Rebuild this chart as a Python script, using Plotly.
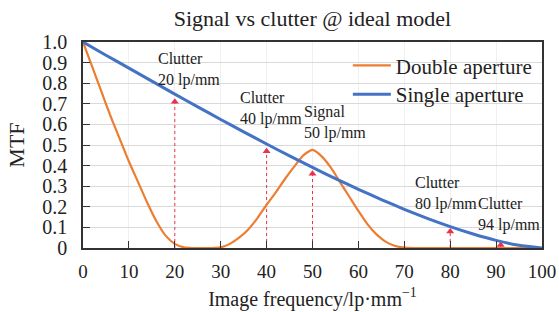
import plotly.graph_objects as go

# ---- data ----
freq_single = [0, 5, 10, 15, 20, 25, 30, 35, 40, 45, 50, 55, 60, 65, 70, 75, 80, 85, 90, 95, 100]
mtf_single = [1.0, 0.936, 0.873, 0.810, 0.747, 0.685, 0.624, 0.564, 0.505, 0.447, 0.391,
              0.337, 0.285, 0.235, 0.188, 0.144, 0.104, 0.068, 0.037, 0.013, 0.0]

freq_double = [0, 2, 4, 6, 8, 10, 12, 14, 16, 18, 20, 22, 24, 26, 28, 30, 32, 34, 36, 38,
               40, 42, 44, 46, 48, 50, 52, 54, 56, 58, 60, 62, 64, 66, 68, 70, 72, 80, 90, 100]
mtf_double = [1.0, 0.88, 0.76, 0.64, 0.53, 0.42, 0.32, 0.22, 0.13, 0.06, 0.02, 0.003, 0.0, 0.0,
              0.0, 0.003, 0.02, 0.05, 0.09, 0.145, 0.21, 0.27, 0.335, 0.395, 0.45, 0.476,
              0.445, 0.39, 0.32, 0.25, 0.18, 0.115, 0.065, 0.03, 0.01, 0.002, 0.0, 0.0, 0.0, 0.0]

arrow_x = [20, 40, 50, 80, 91]
arrow_tip = [0.71, 0.47, 0.36, 0.08, 0.015]

label_text = ["Clutter<br>20 lp/mm", "Clutter<br>40 lp/mm", "Signal<br>50 lp/mm",
              "Clutter<br>80 lp/mm", "Clutter<br>94 lp/mm"]
label_x = [15.9, 33.8, 47.7, 71.9, 85.6]
label_y = [0.865, 0.675, 0.609, 0.265, 0.165]

y_ticks = [0, 0.1, 0.2, 0.3, 0.4, 0.5, 0.6, 0.7, 0.8, 0.9, 1.0]
y_ticktext = ["0", "0.1", "0.2", "0.3", "0.4", "0.5", "0.6", "0.7", "0.8", "0.9", "1.0"]
x_ticks = [0, 10, 20, 30, 40, 50, 60, 70, 80, 90, 100]

FONT = "Liberation Serif, Times New Roman, serif"
RED = "#e8334f"
ORANGE = "#ed7d31"
BLUE = "#4472c4"
TXT = "#222"

fig = go.Figure()

# arrows (dotted stems + triangle heads)
for xa, ya in zip(arrow_x, arrow_tip):
    fig.add_trace(go.Scatter(x=[xa, xa], y=[0, ya], mode="lines",
                             line=dict(color=RED, width=1, dash="dot"),
                             showlegend=False, hoverinfo="skip"))
fig.add_trace(go.Scatter(x=arrow_x, y=arrow_tip, mode="markers",
                         marker=dict(symbol="triangle-up", size=7, color=RED),
                         showlegend=False, hoverinfo="skip"))

fig.add_trace(go.Scatter(x=freq_double, y=mtf_double, mode="lines", name="Double aperture",
                         line=dict(color=ORANGE, width=2.2, shape="spline", smoothing=0.6),
                         legend="legend"))
fig.add_trace(go.Scatter(x=freq_single, y=mtf_single, mode="lines", name="Single aperture",
                         line=dict(color=BLUE, width=3, shape="spline", smoothing=0.6),
                         legend="legend2"))

for t, xl, yl in zip(label_text, label_x, label_y):
    fig.add_annotation(x=xl, y=yl, xref="x", yref="y", text=t, showarrow=False,
                       xanchor="left", yanchor="middle", align="left",
                       font=dict(family=FONT, size=16, color=TXT))

fig.update_layout(
    width=559, height=312,
    margin=dict(l=83, r=17, t=42, b=64),
    paper_bgcolor="white", plot_bgcolor="white",
    font=dict(family=FONT, size=19, color=TXT),
    title=dict(text="Signal vs clutter @ ideal model", x=0.559, xanchor="center",
               y=0.94, yanchor="middle", font=dict(family=FONT, size=22, color=TXT)),
    legend=dict(x=0.577, xanchor="left", y=0.885, yanchor="middle",
                bgcolor="rgba(0,0,0,0)", font=dict(family=FONT, size=21, color=TXT),
                itemwidth=38),
    legend2=dict(x=0.577, xanchor="left", y=0.745, yanchor="middle",
                 bgcolor="rgba(0,0,0,0)", font=dict(family=FONT, size=21, color=TXT),
                 itemwidth=38),
    xaxis=dict(range=[0, 100], tickvals=x_ticks, ticks="inside", ticklen=7,
               tickcolor="#333", showline=True, linecolor="#333", linewidth=1.5, mirror=True,
               showgrid=True, gridcolor="#f0f0f0", zeroline=False, ticklabelstandoff=5,
               automargin=False,
               title=dict(text="Image frequency/lp·mm<sup>−1</sup>", standoff=11,
                          font=dict(family=FONT, size=20)),
               tickfont=dict(family=FONT, size=19)),
    yaxis=dict(range=[0, 1.0], tickvals=y_ticks, ticktext=y_ticktext, ticks="inside",
               ticklen=7, tickcolor="#333", showline=True, linecolor="#333", linewidth=1.5,
               mirror=True, showgrid=True, gridcolor="#d9d9d9", zeroline=False,
               ticklabelstandoff=10, automargin=False,
               title=dict(text="MTF", standoff=12, font=dict(family=FONT, size=22)),
               tickfont=dict(family=FONT, size=20)),
)

fig.write_html("out.html", config={"displayModeBar": False},
               post_script="document.body.style.margin='0';document.body.style.overflow='hidden';")
